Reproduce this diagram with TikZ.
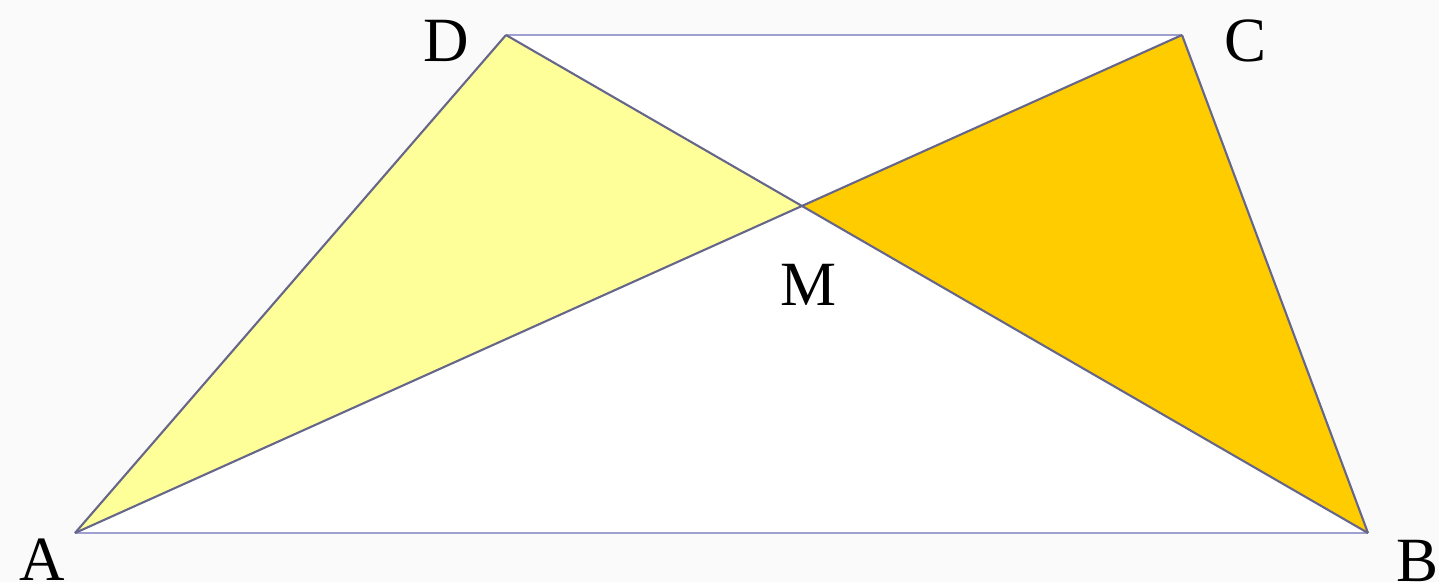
\documentclass[tikz,border=0pt]{standalone}
\usepackage{fontspec}
\setmainfont{Liberation Serif}
\usetikzlibrary{calc,intersections}
\definecolor{bg}{HTML}{FAFAFA}
\definecolor{lightyel}{HTML}{FFFF99}
\definecolor{orangey}{HTML}{FFCC00}
\definecolor{edgelight}{HTML}{A0A0D0}
\definecolor{edgedark}{HTML}{66668A}
\tikzset{
  lbl/.style={font=\fontsize{63}{70}\selectfont, text=black, inner sep=0pt},
  thinedge/.style={draw=edgelight, line width=2.6pt, line join=round},
  darkedge/.style={draw=edgedark, line width=2.1pt, line join=round},
}
\begin{document}
\begin{tikzpicture}[x=1pt,y=-1pt]
\fill[bg] (0,0) rectangle (1439,582);
\useasboundingbox (0,0) rectangle (1439,582);
\coordinate (A) at (75,533);
\coordinate (B) at (1368,533);
\coordinate (C) at (1182,35);
\coordinate (D) at (506,35);
\path[name path=ac] (A) -- (C);
\path[name path=bd] (B) -- (D);
\path[name intersections={of=ac and bd, by=M}];
\fill[white] (A) -- (B) -- (C) -- (D) -- cycle;
\fill[lightyel] (A) -- (M) -- (D) -- cycle;
\fill[orangey] (B) -- (C) -- (M) -- cycle;
\draw[thinedge] (A) -- (B);
\draw[thinedge] (D) -- (C);
\draw[darkedge] (A) -- (D);
\draw[darkedge] (B) -- (C);
\draw[darkedge] (A) -- (C);
\draw[darkedge] (B) -- (D);
\node[lbl] (lD) at (446,41) {D};
\node[lbl] (lC) at (1245,41) {C};
\node[lbl] (lM) at (808,285) {M};
\node[lbl] (lA) at (42,560) {A};
\node[lbl] (lB) at (1417,561) {B};
\end{tikzpicture}
\end{document}
